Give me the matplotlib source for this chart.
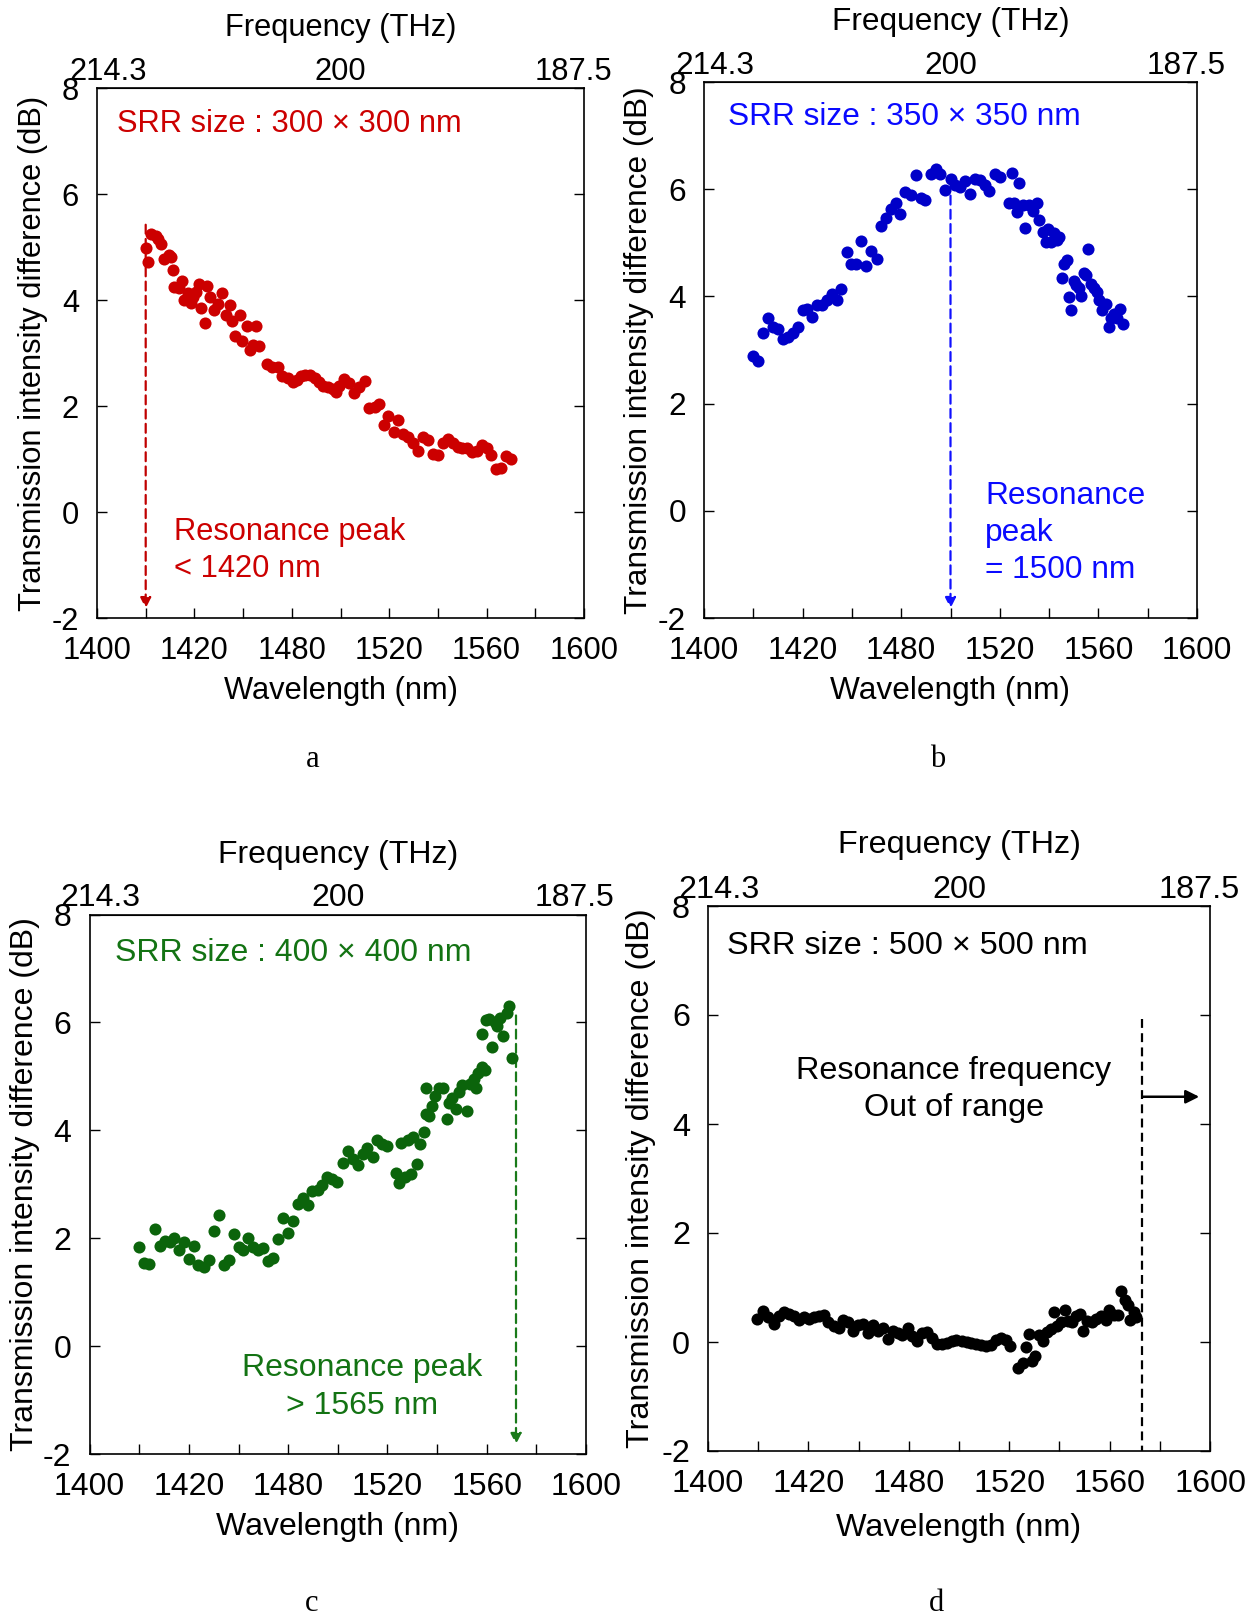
import matplotlib
matplotlib.use('agg')
import matplotlib.pyplot as plt

plt.rcParams['font.family'] = ['Liberation Sans', 'DejaVu Sans']

# ---- data ----
wl_a = [1420.0, 1421.1, 1422.2, 1424.1, 1425.2, 1426.4, 1427.5, 1429.4, 1430.5, 1431.1,
        1431.7, 1433.5, 1435.1, 1435.8, 1437.3, 1438.4, 1439.6, 1440.8, 1441.9, 1442.9,
        1444.2, 1445.2, 1446.4, 1447.9, 1449.5, 1451.4, 1452.9, 1454.8, 1455.5, 1456.8,
        1458.6, 1459.6, 1461.6, 1462.7, 1464.2, 1465.4, 1466.6, 1470.0, 1471.8, 1474.2,
        1476.0, 1478.3, 1480.3, 1482.1, 1483.6, 1485.4, 1487.4, 1489.4, 1491.2, 1493.0,
        1494.9, 1496.8, 1498.0, 1499.5, 1501.5, 1503.6, 1505.6, 1507.6, 1510.2, 1511.7,
        1514.0, 1515.8, 1517.8, 1519.7, 1521.8, 1523.8, 1525.8, 1527.9, 1529.9, 1531.9,
        1534.0, 1536.0, 1537.9, 1540.1, 1542.0, 1544.0, 1546.1, 1548.1, 1550.1, 1551.9,
        1554.2, 1556.1, 1558.0, 1560.2, 1561.8, 1563.7, 1565.9, 1567.8, 1570.1]
db_a = [4.99, 4.72, 5.24, 5.21, 5.16, 5.06, 4.78, 4.84, 4.81, 4.56,
        4.25, 4.22, 4.36, 4.00, 4.13, 3.95, 4.06, 4.16, 4.30, 3.85,
        3.57, 4.27, 4.06, 3.81, 3.92, 4.14, 3.71, 3.90, 3.60, 3.32,
        3.72, 3.22, 3.51, 3.05, 3.16, 3.51, 3.14, 2.79, 2.73, 2.73,
        2.56, 2.52, 2.45, 2.49, 2.56, 2.59, 2.58, 2.52, 2.45, 2.37,
        2.35, 2.33, 2.26, 2.38, 2.51, 2.44, 2.24, 2.35, 2.47, 1.96,
        1.98, 2.03, 1.65, 1.81, 1.51, 1.74, 1.48, 1.41, 1.30, 1.16,
        1.41, 1.35, 1.09, 1.08, 1.30, 1.37, 1.30, 1.23, 1.20, 1.20,
        1.14, 1.16, 1.27, 1.21, 1.07, 0.81, 0.83, 1.06, 1.00]

wl_b = [1420.0, 1422.0, 1424.0, 1426.0, 1428.0, 1430.1, 1432.0, 1434.0, 1436.1, 1438.1,
        1440.0, 1441.8, 1443.7, 1445.8, 1447.8, 1449.7, 1451.8, 1453.8, 1455.7, 1458.0,
        1459.8, 1461.7, 1463.8, 1465.8, 1467.7, 1470.0, 1471.8, 1473.7, 1475.8, 1477.7,
        1479.7, 1481.5, 1483.8, 1486.0, 1488.0, 1489.8, 1492.0, 1494.0, 1495.8, 1497.8,
        1500.0, 1501.8, 1503.8, 1505.9, 1507.9, 1509.8, 1512.0, 1513.9, 1515.8, 1517.9,
        1519.9, 1523.6, 1525.1, 1525.8, 1527.1, 1527.8, 1529.3, 1530.3, 1531.9, 1533.4,
        1535.2, 1536.1, 1537.5, 1538.7, 1539.7, 1540.9, 1542.1, 1543.1, 1544.2, 1545.1,
        1546.2, 1547.2, 1548.1, 1548.9, 1549.9, 1551.1, 1552.2, 1552.9, 1554.0, 1555.1,
        1555.9, 1557.1, 1558.1, 1559.3, 1560.4, 1561.6, 1563.1, 1564.1, 1565.2, 1566.4,
        1567.6, 1568.7, 1569.9]
db_b = [2.88, 2.79, 3.31, 3.59, 3.43, 3.39, 3.20, 3.24, 3.32, 3.43,
        3.75, 3.77, 3.61, 3.84, 3.84, 3.94, 4.05, 3.93, 4.14, 4.83,
        4.60, 4.61, 5.03, 4.57, 4.84, 4.70, 5.32, 5.46, 5.63, 5.74,
        5.54, 5.94, 5.89, 6.26, 5.84, 5.79, 6.29, 6.37, 6.29, 5.98,
        6.19, 6.07, 6.05, 6.15, 5.91, 6.19, 6.17, 6.08, 5.96, 6.28,
        6.22, 5.75, 6.30, 5.74, 5.57, 6.12, 5.70, 5.27, 5.70, 5.60,
        5.74, 5.43, 5.20, 5.01, 5.26, 5.01, 5.19, 5.06, 5.10, 4.34,
        4.60, 4.67, 3.98, 3.75, 4.29, 4.22, 4.15, 4.01, 4.43, 4.39,
        4.88, 4.23, 4.15, 4.08, 3.93, 3.74, 3.86, 3.43, 3.60, 3.67,
        3.59, 3.77, 3.48]

wl_c = [1420.0, 1421.9, 1424.0, 1426.2, 1428.2, 1430.4, 1432.4, 1434.2, 1436.0, 1438.0,
        1440.1, 1442.1, 1443.8, 1446.1, 1448.2, 1450.1, 1452.1, 1454.0, 1456.1, 1458.0,
        1460.0, 1462.0, 1464.0, 1465.9, 1468.0, 1469.9, 1471.9, 1474.0, 1475.9, 1477.9,
        1480.0, 1481.9, 1483.8, 1485.9, 1487.8, 1489.8, 1491.9, 1493.8, 1495.6, 1497.5,
        1499.8, 1502.0, 1504.0, 1506.0, 1508.0, 1510.0, 1511.7, 1514.0, 1515.9, 1518.0,
        1519.9, 1523.6, 1524.8, 1525.4, 1526.9, 1528.1, 1529.3, 1530.3, 1531.8, 1533.3,
        1534.8, 1535.6, 1536.8, 1535.6, 1537.8, 1539.3, 1540.8, 1542.3, 1543.8, 1544.8,
        1546.0, 1547.5, 1549.0, 1550.2, 1551.9, 1553.2, 1554.7, 1555.7, 1556.5, 1558.0,
        1559.4, 1558.0, 1559.9, 1560.9, 1562.1, 1563.2, 1564.3, 1565.4, 1566.6, 1568.1,
        1569.1, 1570.2]
db_c = [1.83, 1.55, 1.52, 2.17, 1.86, 1.95, 1.93, 2.00, 1.79, 1.93,
        1.62, 1.86, 1.50, 1.47, 1.59, 2.14, 2.43, 1.50, 1.59, 2.07,
        1.83, 1.79, 2.00, 1.83, 1.79, 1.81, 1.57, 1.64, 1.98, 2.38,
        2.10, 2.32, 2.64, 2.75, 2.62, 2.87, 2.89, 2.98, 3.13, 3.10,
        3.05, 3.39, 3.62, 3.47, 3.35, 3.56, 3.67, 3.51, 3.83, 3.75,
        3.71, 3.21, 3.03, 3.76, 3.13, 3.82, 3.20, 3.88, 3.37, 3.75,
        3.97, 4.30, 4.26, 4.78, 4.45, 4.64, 4.79, 4.79, 4.21, 4.50,
        4.60, 4.40, 4.71, 4.84, 4.35, 4.86, 4.95, 4.78, 5.07, 5.17,
        5.11, 5.79, 6.05, 6.07, 5.54, 6.01, 5.93, 6.08, 5.75, 6.18,
        6.30, 5.34]

wl_d = [1419.6, 1422.1, 1424.0, 1426.2, 1428.4, 1430.3, 1432.4, 1434.3, 1436.2, 1438.3,
        1440.2, 1442.1, 1444.2, 1446.1, 1448.0, 1450.0, 1452.0, 1453.9, 1455.9, 1457.8,
        1459.8, 1461.8, 1463.7, 1465.6, 1467.7, 1469.6, 1471.8, 1473.6, 1475.5, 1477.4,
        1479.5, 1481.4, 1483.3, 1485.4, 1487.3, 1489.2, 1491.2, 1493.2, 1495.1, 1497.1,
        1499.0, 1501.0, 1503.0, 1504.9, 1506.8, 1508.9, 1510.8, 1512.7, 1514.8, 1516.7,
        1518.6, 1520.4, 1523.6, 1525.5, 1526.6, 1527.7, 1528.9, 1530.4, 1531.9, 1533.6,
        1535.1, 1536.6, 1538.0, 1539.2, 1540.7, 1542.2, 1543.6, 1545.1, 1546.6, 1548.1,
        1549.5, 1551.0, 1552.8, 1554.5, 1556.4, 1558.4, 1559.8, 1561.6, 1563.4, 1564.5,
        1566.0, 1567.2, 1568.2, 1569.7, 1570.7]
db_d = [0.43, 0.57, 0.46, 0.33, 0.48, 0.55, 0.52, 0.48, 0.40, 0.45,
        0.43, 0.45, 0.48, 0.50, 0.36, 0.29, 0.25, 0.41, 0.36, 0.21,
        0.31, 0.33, 0.16, 0.32, 0.21, 0.26, 0.06, 0.21, 0.16, 0.12,
        0.25, 0.11, 0.02, 0.16, 0.19, 0.07, -0.03, -0.03, -0.01, 0.02,
        0.04, 0.02, 0.00, -0.01, -0.03, -0.05, -0.08, -0.05, 0.04, 0.07,
        0.04, -0.08, -0.47, -0.38, -0.10, 0.15, -0.34, -0.26, 0.12, 0.01,
        0.19, 0.24, 0.55, 0.30, 0.36, 0.59, 0.39, 0.37, 0.48, 0.52,
        0.21, 0.39, 0.37, 0.43, 0.48, 0.41, 0.59, 0.50, 0.50, 0.93,
        0.77, 0.67, 0.40, 0.55, 0.45]

# axis ticks (bottom labels kept exactly as printed)
x_ticks = [1400, 1440, 1480, 1520, 1560, 1600]
x_ticklabels = ['1400', '1420', '1480', '1520', '1560', '1600']
x_minor = [1420, 1460, 1500, 1540, 1580]
y_ticks = [-2, 0, 2, 4, 6, 8]
y_ticklabels = ['-2', '0', '2', '4', '6', '8']
thz_pos = [1404.5, 1500, 1595.5]
thz_labels = ['214.3', '200', '187.5']

# resonance markers (nm) and where the dashed arrows start (dB)
peak_a, peak_a_top = 1420.0, 5.42
peak_b, peak_b_top = 1500.0, 5.88
peak_c, peak_c_top = 1571.8, 6.13
limit_d, limit_d_top = 1573.1, 5.93
arrow_d_y, arrow_d_end = 4.5, 1595.7

fig = plt.figure(figsize=(12.5, 16.16), dpi=100)
W, H = 1250.0, 1616.0


def make_axes(left, right, top, bottom, fs, freq_off, ylab_off, xlab_off=57.5):
    ax = fig.add_axes([left / W, 1 - bottom / H, (right - left) / W, (bottom - top) / H])
    wpx, hpx = right - left, bottom - top
    ax.set_xlim(1400, 1600)
    ax.set_ylim(-2, 8)
    ax.set_xticks(x_ticks, labels=x_ticklabels)
    ax.set_xticks(x_minor, minor=True)
    ax.set_yticks(y_ticks, labels=y_ticklabels)
    ax.tick_params(which='both', direction='in', length=7.5, width=1.0,
                   labelsize=fs, pad=13, right=True, top=False)
    for sp in ax.spines.values():
        sp.set_linewidth(1.2)
    ax.set_xlabel('Wavelength (nm)', fontsize=fs)
    ax.xaxis.set_label_coords(0.5, -xlab_off / hpx)
    ax.set_ylabel('Transmission intensity difference (dB)', fontsize=fs)
    ax.yaxis.set_label_coords(-ylab_off / wpx, 0.5)
    sec = ax.secondary_xaxis('top')
    sec.set_xticks(thz_pos, labels=thz_labels)
    sec.tick_params(length=0, labelsize=fs, pad=1)
    ax.text(0.5, 1 + freq_off / hpx, 'Frequency (THz)', fontsize=fs,
            transform=ax.transAxes, ha='center', va='center')
    return ax


def dashed_arrow(ax, x, y0, color):
    ax.annotate('', xy=(x, -1.82), xytext=(x, y0),
                arrowprops=dict(arrowstyle='-|>', color=color, lw=1.6,
                                linestyle=(0, (4, 2.4)), shrinkA=0, shrinkB=0,
                                mutation_scale=16), zorder=2)


MS = 8.7

# ---- a ----
fs = 22.2
ax = make_axes(97, 584, 88, 618, fs, 60, 48.5)
dashed_arrow(ax, peak_a, peak_a_top, '#c00000')
ax.plot(wl_a, db_a, 'o', color='#cc0000', ms=MS, mec='none', zorder=3)
ax.text(0.042, 0.933, 'SRR size : 300 × 300 nm', color='#cc0000', fontsize=fs,
        transform=ax.transAxes, ha='left', va='center')
ax.text(0.158, 0.127, 'Resonance peak\n< 1420 nm', color='#cc0000', fontsize=fs,
        transform=ax.transAxes, ha='left', va='center', linespacing=1.3)

# ---- b ----
fs = 22.8
ax = make_axes(704, 1197, 82, 618, fs, 60, 50.5)
dashed_arrow(ax, peak_b, peak_b_top, '#1010ff')
ax.plot(wl_b, db_b, 'o', color='#0000c8', ms=MS, mec='none', zorder=3)
ax.text(0.0495, 0.935, 'SRR size : 350 × 350 nm', color='#0a0aff', fontsize=fs,
        transform=ax.transAxes, ha='left', va='center')
ax.text(0.570, 0.158, 'Resonance\npeak\n= 1500 nm', color='#0a0aff', fontsize=fs,
        transform=ax.transAxes, ha='left', va='center', linespacing=1.3)

# ---- c ----
fs = 23.0
ax = make_axes(89.6, 586, 914.6, 1454, fs, 60, 49.5)
dashed_arrow(ax, peak_c, peak_c_top, '#1a7a1a')
ax.plot(wl_c, db_c, 'o', color='#0b640b', ms=MS, mec='none', zorder=3)
ax.text(0.051, 0.928, 'SRR size : 400 × 400 nm', color='#137313', fontsize=fs,
        transform=ax.transAxes, ha='left', va='center')
ax.text(0.548, 0.124, 'Resonance peak\n> 1565 nm', color='#137313', fontsize=fs,
        transform=ax.transAxes, ha='center', va='center', linespacing=1.36,
        multialignment='center')

# ---- d ----
fs = 23.3
ax = make_axes(708, 1210, 906, 1451, fs, 61, 52.5, xlab_off=62)
ax.plot([limit_d, limit_d], [limit_d_top, -2], color='black', lw=1.6,
        dashes=(4, 2.4), zorder=2)
ax.annotate('', xy=(arrow_d_end, arrow_d_y), xytext=(limit_d, arrow_d_y),
            arrowprops=dict(arrowstyle='-|>', color='black', lw=1.8,
                            shrinkA=0, shrinkB=0, mutation_scale=20))
ax.plot(wl_d, db_d, 'o', color='black', ms=MS, mec='none', zorder=3)
ax.text(0.038, 0.927, 'SRR size : 500 × 500 nm', color='black', fontsize=fs,
        transform=ax.transAxes, ha='left', va='center')
ax.text(0.49, 0.663, 'Resonance frequency\nOut of range', color='black', fontsize=fs,
        transform=ax.transAxes, ha='center', va='center', linespacing=1.33,
        multialignment='center')

# panel letters
for lab, x, y in [('a', 313, 767), ('b', 938, 767), ('c', 312, 1611), ('d', 936, 1611)]:
    fig.text(x / W, 1 - y / H, lab, family=['Liberation Serif', 'DejaVu Serif'],
             fontsize=22, ha='center', va='baseline')

fig.savefig('out.png', dpi=100)
